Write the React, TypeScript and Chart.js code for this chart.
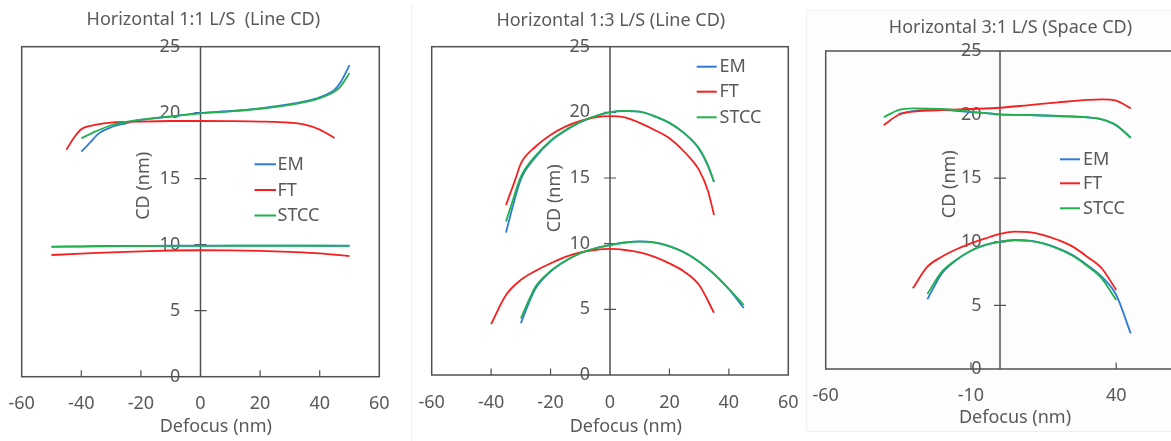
import React, { useEffect, useRef } from "react";
import { Chart, registerables } from "chart.js";
Chart.register(...registerables);

const SERIES = ["EM", "FT", "STCC"];
const COLORS = ["#2f7bd3", "#f52020", "#22b14f"];
const Y_TICKS = [0, 5, 10, 15, 20, 25];
const X_TICKS_A = [-60, -40, -20, 0, 20, 40, 60];
const X_TICKS_B = [-60, -10, 40];
const TITLES = ["Horizontal 1:1 L/S  (Line CD)", "Horizontal 1:3 L/S (Line CD)", "Horizontal 3:1 L/S (Space CD)"];
const X_TITLE = "Defocus (nm)";
const Y_TITLE = "CD (nm)";

// Panel 1 : Horizontal 1:1 L/S (Line CD)
const P1_EM_UP_X = [-40, -37, -34, -30, -25, -20, -10, 0, 10, 20, 30, 35, 40, 45, 47, 50];
const P1_EM_UP_Y = [17.05, 17.75, 18.45, 18.9, 19.2, 19.45, 19.7, 19.98, 20.13, 20.33, 20.64, 20.85, 21.17, 21.75, 22.3, 23.6];
const P1_ST_UP_X = [-40, -35, -30, -25, -20, -10, 0, 10, 20, 30, 35, 40, 45, 47, 50];
const P1_ST_UP_Y = [18.06, 18.6, 19.05, 19.3, 19.47, 19.72, 19.95, 20.1, 20.3, 20.6, 20.8, 21.1, 21.6, 22.0, 23.0];
const P1_FT_UP_X = [-45, -42, -40, -37, -35, -30, -20, -10, 0, 10, 20, 30, 35, 40, 45];
const P1_FT_UP_Y = [17.2, 18.25, 18.75, 19.0, 19.1, 19.25, 19.33, 19.37, 19.37, 19.36, 19.33, 19.24, 19.1, 18.72, 18.08];
const P1_LO_X = [-50, -40, -30, -20, -10, 0, 10, 20, 30, 40, 50];
const P1_EM_LO_Y = [9.86, 9.88, 9.9, 9.91, 9.92, 9.92, 9.93, 9.93, 9.93, 9.92, 9.92];
const P1_ST_LO_Y = [9.84, 9.86, 9.88, 9.9, 9.91, 9.91, 9.92, 9.92, 9.92, 9.92, 9.91];
const P1_FT_LO_Y = [9.22, 9.32, 9.42, 9.5, 9.56, 9.58, 9.57, 9.53, 9.45, 9.34, 9.14];

// Panel 2 : Horizontal 1:3 L/S (Line CD)
const P2_EM_UP_X = [-35, -33, -30, -25, -20, -15, -10, -5, 0, 5, 10, 15, 20, 25, 30, 33, 35];
const P2_EM_UP_Y = [10.84, 12.6, 14.9, 16.6, 17.8, 18.6, 19.25, 19.7, 20.0, 20.1, 20.05, 19.7, 19.2, 18.4, 17.2, 15.9, 14.7];
const P2_ST_UP_X = [-35, -33, -30, -25, -20, -15, -10, -5, 0, 5, 10, 15, 20, 25, 30, 33, 35];
const P2_ST_UP_Y = [11.68, 13.1, 15.1, 16.7, 17.85, 18.65, 19.28, 19.72, 20.02, 20.12, 20.05, 19.72, 19.2, 18.42, 17.25, 15.95, 14.7];
const P2_FT_UP_X = [-35, -32, -30, -25, -20, -15, -10, -5, 0, 5, 10, 15, 20, 25, 30, 33, 35];
const P2_FT_UP_Y = [12.95, 14.8, 16.1, 17.4, 18.28, 18.91, 19.35, 19.62, 19.72, 19.62, 19.2, 18.66, 18.03, 17.0, 15.6, 14.0, 12.19];
const P2_EM_LO_X = [-30, -27, -25, -20, -15, -10, -5, 0, 5, 10, 15, 20, 25, 30, 35, 40, 45];
const P2_EM_LO_Y = [3.94, 5.65, 6.6, 7.87, 8.68, 9.27, 9.65, 9.9, 10.1, 10.18, 10.1, 9.82, 9.34, 8.63, 7.69, 6.53, 5.1];
const P2_ST_LO_Y = [4.32, 5.85, 6.75, 7.92, 8.7, 9.28, 9.65, 9.88, 10.07, 10.15, 10.08, 9.8, 9.33, 8.63, 7.7, 6.56, 5.33];
const P2_FT_LO_X = [-40, -35, -30, -25, -20, -15, -10, -5, 0, 5, 10, 15, 20, 25, 30, 35];
const P2_FT_LO_Y = [3.88, 6.09, 7.24, 7.94, 8.5, 9.0, 9.34, 9.52, 9.6, 9.52, 9.34, 9.0, 8.5, 7.87, 6.85, 4.74];

// Panel 3 : Horizontal 3:1 L/S (Space CD)
const P3_FT_UP_X = [-40, -35, -30, -20, -10, 0, 10, 20, 30, 35, 40, 45];
const P3_FT_UP_Y = [19.18, 19.97, 20.23, 20.36, 20.44, 20.54, 20.75, 20.96, 21.15, 21.2, 21.09, 20.49];
const P3_ST_UP_X = [-40, -35, -30, -20, -10, 0, 10, 20, 30, 35, 40, 45];
const P3_ST_UP_Y = [19.79, 20.36, 20.49, 20.44, 20.23, 20.02, 19.97, 19.89, 19.79, 19.63, 19.18, 18.18];
const P3_EM_UP_X = [-35, -30, -20, -10, 0, 10, 20, 30, 35, 40, 45];
const P3_EM_UP_Y = [20.05, 20.28, 20.36, 20.2, 20.02, 19.97, 19.89, 19.78, 19.62, 19.15, 18.18];
const P3_FT_LO_X = [-30, -25, -20, -15, -10, -5, 0, 5, 10, 15, 20, 25, 30, 35, 40];
const P3_FT_LO_Y = [6.34, 8.04, 8.83, 9.41, 9.88, 10.27, 10.62, 10.8, 10.76, 10.53, 10.14, 9.62, 8.83, 7.92, 6.21];
const P3_EM_LO_X = [-25, -20, -15, -10, -5, 0, 5, 10, 15, 20, 25, 30, 35, 40, 45];
const P3_EM_LO_Y = [5.48, 7.52, 8.57, 9.3, 9.75, 10.01, 10.14, 10.1, 9.88, 9.49, 8.96, 8.18, 7.26, 5.82, 2.8];
const P3_ST_LO_X = [-25, -20, -15, -10, -5, 0, 5, 10, 15, 20, 25, 30, 35, 40];
const P3_ST_LO_Y = [5.9, 7.65, 8.6, 9.3, 9.75, 10.0, 10.12, 10.08, 9.85, 9.45, 8.9, 8.1, 7.13, 5.42];

const FONT = '"Noto Sans", sans-serif';
const TEXT = "#595959";
const AXIS = "#505050";

const pts = (xs: number[], ys: number[]) => xs.map((x, i) => ({ x, y: ys[i] }));

function ds(seriesIdx: number, data: { x: number; y: number }[]) {
  const order = seriesIdx === 2 ? 0 : seriesIdx === 1 ? 1 : 2;
  return {
    label: SERIES[seriesIdx],
    data,
    borderColor: COLORS[seriesIdx],
    backgroundColor: COLORS[seriesIdx],
    borderWidth: 1.8,
    pointRadius: 0,
    fill: false,
    cubicInterpolationMode: "monotone" as const,
    order,
  };
}

const PANELS = [
  {
    left: 0, w: 400, h: 441,
    pad: { left: 21.7, right: 20.7, top: 46.7, bottom: 9.7 },
    xLH: 54.6, yPad: 20.3, xTicks: X_TICKS_A,
    title: TITLES[0], titlePos: [203.3, 20.3], xTitlePos: [215.8, 426.7], yTitlePos: [144.2, 185.8],
    legend: { x0: 254.5, x1: 276, tx: 277.5, ys: [164.3, 190, 215.5] },
    datasets: [
      ds(0, pts(P1_EM_UP_X, P1_EM_UP_Y)), ds(1, pts(P1_FT_UP_X, P1_FT_UP_Y)), ds(2, pts(P1_ST_UP_X, P1_ST_UP_Y)),
      ds(0, pts(P1_LO_X, P1_EM_LO_Y)), ds(1, pts(P1_LO_X, P1_FT_LO_Y)), ds(2, pts(P1_LO_X, P1_ST_LO_Y)),
    ],
  },
  {
    left: 400, w: 400, h: 441,
    pad: { left: 31.7, right: 11.7, top: 46.7, bottom: 10.6 },
    xLH: 55.4, yPad: 20, xTicks: X_TICKS_A,
    title: TITLES[1], titlePos: [210.8, 21], xTitlePos: [225.8, 426.5], yTitlePos: [155, 198.3],
    legend: { x0: 296.7, x1: 316.7, tx: 319.5, ys: [66.7, 91.7, 117.3] },
    datasets: [
      ds(0, pts(P2_EM_UP_X, P2_EM_UP_Y)), ds(1, pts(P2_FT_UP_X, P2_FT_UP_Y)), ds(2, pts(P2_ST_UP_X, P2_ST_UP_Y)),
      ds(0, pts(P2_EM_LO_X, P2_EM_LO_Y)), ds(1, pts(P2_FT_LO_X, P2_FT_LO_Y)), ds(2, pts(P2_EM_LO_X, P2_ST_LO_Y)),
    ],
  },
  {
    left: 800, w: 1190 - 800, h: 441,
    pad: { left: 25.7, right: 15.7, top: 51, bottom: 18.6 },
    xLH: 53.4, yPad: 18.5, xTicks: X_TICKS_B,
    title: TITLES[2], titlePos: [210.5, 28.3], xTitlePos: [215, 417.8], yTitlePos: [150, 184.2],
    legend: { x0: 260, x1: 280, tx: 283, ys: [159.3, 183.3, 208.3] },
    datasets: [
      ds(0, pts(P3_EM_UP_X, P3_EM_UP_Y)), ds(1, pts(P3_FT_UP_X, P3_FT_UP_Y)), ds(2, pts(P3_ST_UP_X, P3_ST_UP_Y)),
      ds(0, pts(P3_EM_LO_X, P3_EM_LO_Y)), ds(1, pts(P3_FT_LO_X, P3_FT_LO_Y)), ds(2, pts(P3_ST_LO_X, P3_ST_LO_Y)),
    ],
  },
];

const decorPlugin = {
  id: "decor",
  beforeDatasetsDraw(chart: any, _args: any, opts: any) {
    const { ctx, chartArea: a, scales } = chart;
    const xs = scales.x, ys = scales.y;
    ctx.save();
    ctx.strokeStyle = AXIS;
    ctx.lineWidth = 1.5;
    ctx.strokeRect(a.left, a.top, a.right - a.left, a.bottom - a.top);
    const x0 = xs.getPixelForValue(0);
    ctx.beginPath();
    ctx.moveTo(x0, a.top);
    ctx.lineTo(x0, a.bottom);
    ctx.stroke();
    ctx.lineWidth = 1.2;
    ctx.beginPath();
    for (const v of Y_TICKS) {
      if (v === Y_TICKS[0] || v === Y_TICKS[Y_TICKS.length - 1]) continue;
      const py = ys.getPixelForValue(v);
      ctx.moveTo(x0 - 6, py);
      ctx.lineTo(x0 + 6, py);
    }
    for (const v of opts.xTicks) {
      if (v === 0 || v === -60 || v === 60) continue;
      const px = xs.getPixelForValue(v);
      ctx.moveTo(px, a.bottom);
      ctx.lineTo(px, a.bottom - 6.5);
    }
    ctx.stroke();
    ctx.restore();
  },
  afterDraw(chart: any, _args: any, opts: any) {
    const { ctx } = chart;
    ctx.save();
    ctx.fillStyle = TEXT;
    ctx.font = `18px ${FONT}`;
    ctx.textBaseline = "middle";
    ctx.textAlign = "center";
    ctx.fillText(opts.title, opts.titlePos[0], opts.titlePos[1]);
    ctx.fillText(X_TITLE, opts.xTitlePos[0], opts.xTitlePos[1]);
    ctx.save();
    ctx.translate(opts.yTitlePos[0], opts.yTitlePos[1]);
    ctx.rotate(-Math.PI / 2);
    ctx.fillText(Y_TITLE, 0, 0);
    ctx.restore();
    // legend
    const lg = opts.legend;
    SERIES.forEach((name, i) => {
      const d = chart.data.datasets.find((q: any) => q.label === name);
      const y = lg.ys[i];
      ctx.strokeStyle = d.borderColor;
      ctx.lineWidth = 2;
      ctx.beginPath();
      ctx.moveTo(lg.x0, y);
      ctx.lineTo(lg.x1, y);
      ctx.stroke();
      ctx.fillStyle = TEXT;
      ctx.textAlign = "left";
      ctx.fillText(name, lg.tx, y + 0.5);
    });
    ctx.restore();
  },
};

function Panel({ cfg }: { cfg: any }) {
  const ref = useRef<HTMLCanvasElement>(null);
  useEffect(() => {
    const chart = new Chart(ref.current as HTMLCanvasElement, {
      type: "line",
      data: { datasets: cfg.datasets },
      plugins: [decorPlugin],
      options: {
        animation: false,
        responsive: false,
        devicePixelRatio: 1,
        layout: { padding: cfg.pad },
        plugins: {
          legend: { display: false },
          title: { display: false },
          tooltip: { enabled: false },
          decor: cfg,
        } as any,
        scales: {
          x: {
            type: "linear",
            min: -60,
            max: 60,
            afterBuildTicks: (s: any) => { s.ticks = cfg.xTicks.map((v: number) => ({ value: v })); },
            grid: { display: false, drawTicks: false },
            border: { display: false },
            ticks: {
              padding: 0,
              autoSkip: false,
              maxRotation: 0,
              color: TEXT,
              font: { family: FONT, size: 18, lineHeight: cfg.xLH / 18 },
            },
          },
          y: {
            type: "linear",
            position: "center",
            min: 0,
            max: 25,
            afterBuildTicks: (s: any) => { s.ticks = Y_TICKS.map((v) => ({ value: v })); },
            grid: { display: false, drawTicks: false },
            border: { display: false },
            ticks: {
              padding: cfg.yPad,
              color: TEXT,
              font: { family: FONT, size: 18, lineHeight: 1 },
            },
          },
        },
      } as any,
    });
    return () => chart.destroy();
  }, []);
  return (
    <canvas
      ref={ref}
      width={cfg.w}
      height={cfg.h}
      style={{ position: "absolute", left: cfg.left, top: 0, width: cfg.w, height: cfg.h }}
    />
  );
}

export default function App() {
  return (
    <div style={{ position: "fixed", left: 0, top: 0, width: 1171, height: 441, overflow: "hidden", background: "#ffffff" }}>
      <div style={{ position: "absolute", left: 411, top: 4, width: 1, height: 437, background: "#f2f2f2" }} />
      <div style={{ position: "absolute", left: 806, top: 10, width: 400, height: 420, border: "1px solid #f0f0f0", background: "#fdfdfd" }} />
      {PANELS.map((p, i) => (
        <Panel key={i} cfg={p} />
      ))}
    </div>
  );
}
